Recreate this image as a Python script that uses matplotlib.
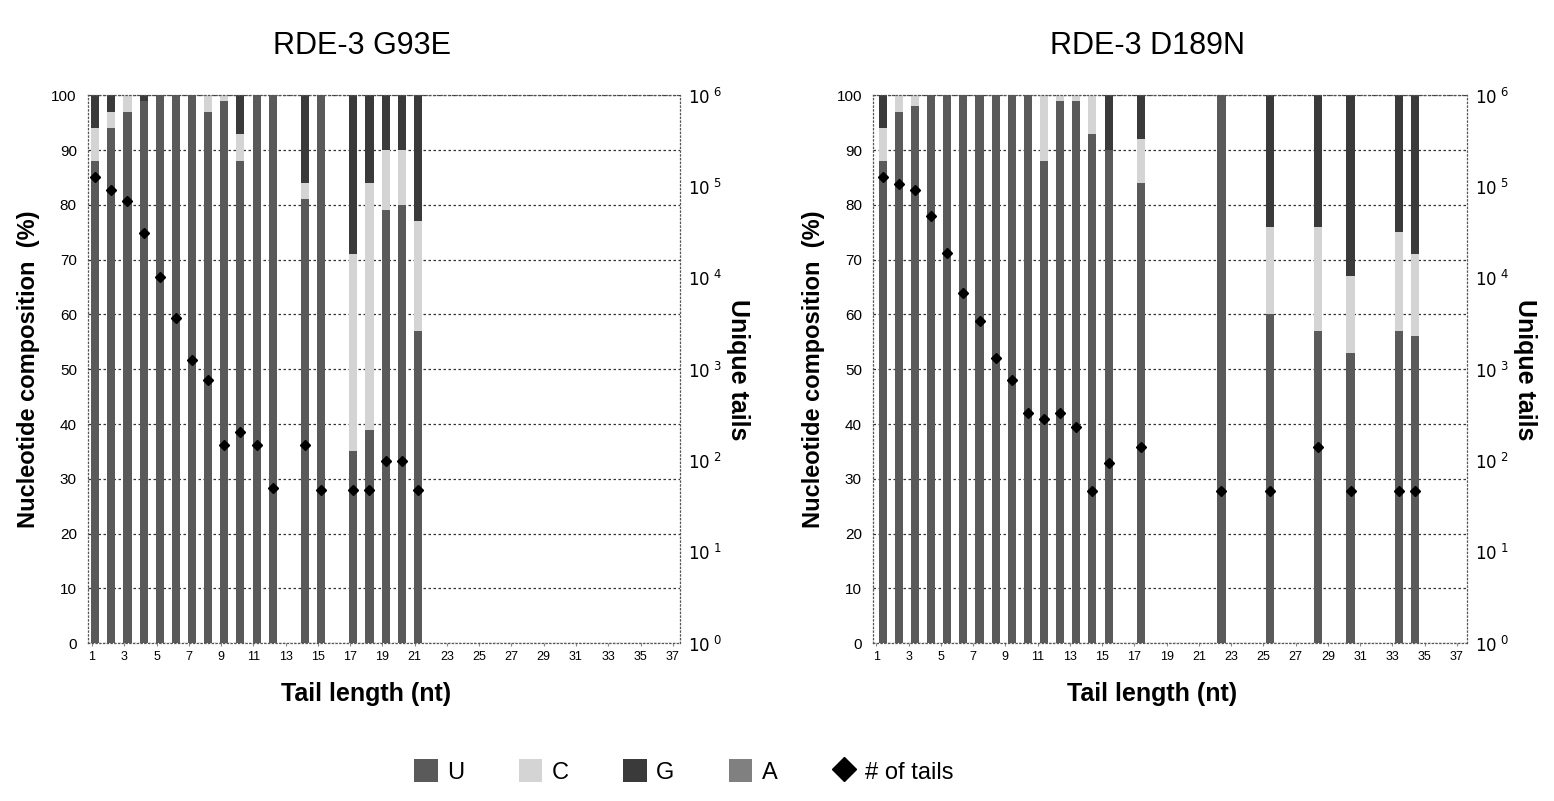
"""Nucleotide composition of tails for two RDE-3 mutants (stacked bars + unique tail counts)."""

import numpy as np
import matplotlib.pyplot as plt
from matplotlib.ticker import FixedLocator, FuncFormatter, NullLocator
from matplotlib.patches import Patch
from matplotlib.lines import Line2D

plt.rcParams['font.family'] = ['Liberation Sans', 'DejaVu Sans']

# RDE-3 G93E
g93e_len = [1, 2, 3, 4, 5, 6, 7, 8, 9, 10, 11, 12, 14, 15, 17, 18, 19, 20, 21]
g93e_U = [88, 94, 97, 99, 100, 100, 100, 97, 99, 88, 100, 100, 81, 100, 35, 39, 79, 80, 57]
g93e_C = [6, 3, 3, 0, 0, 0, 0, 3, 1, 5, 0, 0, 3, 0, 36, 45, 11, 10, 20]
g93e_G = [6, 3, 0, 1, 0, 0, 0, 0, 0, 7, 0, 0, 16, 0, 29, 16, 10, 10, 23]
g93e_A = [0] * 19
g93e_tails = [126000, 91600, 69500, 30800, 10200, 3610, 1250, 760, 147, 204,
              147, 50, 147, 48, 48, 48, 98, 98, 48]

# RDE-3 D189N
d189n_len = [1, 2, 3, 4, 5, 6, 7, 8, 9, 10, 11, 12, 13, 14, 15, 17, 22, 25, 28, 30, 33, 34]
d189n_U = [88, 97, 98, 100, 100, 100, 100, 100, 100, 100, 88, 99, 99, 93, 90, 84,
           100, 60, 57, 53, 57, 56]
d189n_C = [6, 3, 2, 0, 0, 0, 0, 0, 0, 0, 12, 1, 1, 7, 0, 8, 0, 16, 19, 14, 18, 15]
d189n_G = [6, 0, 0, 0, 0, 0, 0, 0, 0, 0, 0, 0, 0, 0, 10, 8, 0, 24, 24, 33, 25, 29]
d189n_A = [0] * 22
d189n_tails = [126000, 107000, 91600, 47900, 18700, 6900, 3370, 1320, 760, 331, 284,
               331, 231, 46, 93, 141, 46, 46, 141, 46, 46, 46]

x_ticks = list(range(1, 38, 2))

colors = {'U': '#5a5a5a', 'C': '#d4d4d4', 'G': '#3a3a3a', 'A': '#808080'}


def draw_panel(ax, lengths, U, C, G, A, tails, title, offset, xlim):
    x = np.array(lengths) + offset
    bottom = np.zeros(len(lengths))
    for name, vals in [('U', U), ('C', C), ('G', G), ('A', A)]:
        vals = np.array(vals, dtype=float)
        ax.bar(x, vals, width=0.5, bottom=bottom, color=colors[name], linewidth=0)
        bottom += vals

    ax.set_xlim(*xlim)
    ax.set_ylim(0, 100)
    ax.set_axisbelow(True)
    ax.yaxis.set_major_locator(FixedLocator(range(0, 101, 10)))
    ax.grid(axis='y', linestyle=(0, (2, 2)), color='#333333', linewidth=0.9)
    ax.set_xticks(x_ticks)
    ax.tick_params(axis='x', labelsize=9, length=2, color='#888888')
    ax.tick_params(axis='y', labelsize=11, length=0, pad=8)
    for s in ax.spines.values():
        s.set_linestyle((0, (1, 2)))
        s.set_color('#555555')
        s.set_linewidth(0.9)
    ax.set_ylabel('Nucleotide composition  (%)', fontsize=17, fontweight='bold', labelpad=8)
    ax.set_xlabel('Tail length (nt)', fontsize=18, fontweight='bold', labelpad=14, x=0.47)
    ax.set_title(title, fontsize=22, pad=30, x=0.463)

    ax2 = ax.twinx()
    ax2.set_yscale('log')
    ax2.set_ylim(1, 1e6)
    ax2.plot(x, tails, linestyle='none', marker='D', color='black', markersize=5.5)
    ax2.yaxis.set_major_locator(FixedLocator([10.0 ** k for k in range(7)]))
    ax2.yaxis.set_minor_locator(NullLocator())
    ax2.yaxis.set_major_formatter(FuncFormatter(lambda v, p: r'$10^{\ %d}$' % round(np.log10(v))))
    ax2.tick_params(axis='y', labelsize=12, length=0, pad=6)
    for s in ax2.spines.values():
        s.set_visible(False)
    ax2.set_ylabel('Unique tails', fontsize=18, fontweight='bold', rotation=-90, labelpad=20)
    return ax2


fig = plt.figure(figsize=(15.54, 8.01), dpi=100)
ax_l = fig.add_axes([0.0566, 0.197, 0.381, 0.684])
ax_r = fig.add_axes([0.5618, 0.197, 0.382, 0.684])

draw_panel(ax_l, g93e_len, g93e_U, g93e_C, g93e_G, g93e_A, g93e_tails,
           'RDE-3 G93E', 0.2, (0.75, 37.45))
draw_panel(ax_r, d189n_len, d189n_U, d189n_C, d189n_G, d189n_A, d189n_tails,
           'RDE-3 D189N', 0.4, (0.8, 37.6))

handles = [Patch(facecolor=colors[k], label=k) for k in ['U', 'C', 'G', 'A']]
handles.append(Line2D([], [], linestyle='none', marker='D', color='black',
                      markersize=12, label='# of tails'))
fig.legend(handles=handles, loc='lower center', bbox_to_anchor=(0.44, -0.005), ncol=5,
           frameon=False, fontsize=17, handlelength=1.0, handleheight=1.1,
           handletextpad=0.4, columnspacing=2.3)

fig.savefig('out.png', dpi=100)
